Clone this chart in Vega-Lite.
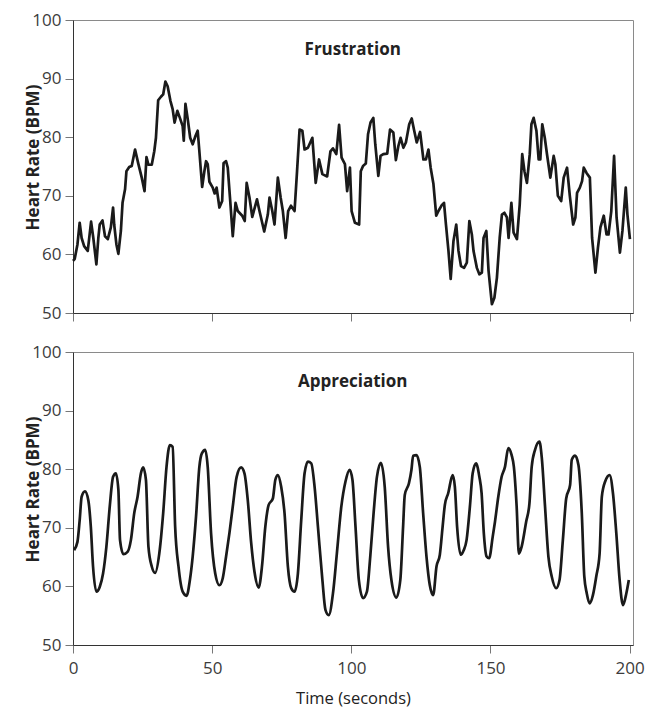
{
 "$schema": "https://vega.github.io/schema/vega-lite/v6.json",
 "background": "white",
 "padding": {"left": 24, "top": 10, "right": 3, "bottom": 0},
 "config": {
  "font": "Open Sans",
  "view": {"stroke": "#8a8a8a", "strokeWidth": 1},
  "axis": {"grid": false, "domainColor": "#333333", "tickColor": "#777777", "tickSize": 8, "labelFontSize": 17, "labelColor": "#3c3c3c", "titleFontSize": 16.5, "titleColor": "#222222", "labelFont": "Open Sans", "titleFont": "Open Sans"},
  "axisY": {"labelPadding": 4},
  "axisX": {"labelPadding": 7},
  "concat": {"spacing": 20}
 },
 "datasets": {
  "frustration": [{"t":0,"hr":58.9},{"t":0.6,"hr":59.2},{"t":1.6,"hr":61.7},{"t":2.4,"hr":65.4},{"t":3.1,"hr":62.8},{"t":4.0,"hr":61.4},{"t":5.3,"hr":60.6},{"t":6.5,"hr":65.6},{"t":7.3,"hr":62.8},{"t":8.4,"hr":58.3},{"t":9.1,"hr":62.8},{"t":9.6,"hr":65.1},{"t":10.6,"hr":65.8},{"t":11.5,"hr":63.1},{"t":12.5,"hr":62.6},{"t":13.6,"hr":64.6},{"t":14.4,"hr":68.0},{"t":14.8,"hr":65.1},{"t":15.6,"hr":61.7},{"t":16.3,"hr":60.1},{"t":17.2,"hr":64.0},{"t":17.8,"hr":68.8},{"t":18.7,"hr":71.1},{"t":19.2,"hr":74.2},{"t":20.2,"hr":74.9},{"t":21.1,"hr":75.1},{"t":22.3,"hr":77.9},{"t":23.5,"hr":75.4},{"t":24.7,"hr":73.1},{"t":25.7,"hr":70.8},{"t":26.4,"hr":76.6},{"t":27.1,"hr":75.3},{"t":28.3,"hr":75.3},{"t":29.2,"hr":77.6},{"t":29.8,"hr":79.9},{"t":30.6,"hr":86.3},{"t":31.6,"hr":86.9},{"t":32.4,"hr":87.3},{"t":33.2,"hr":89.5},{"t":34.0,"hr":88.7},{"t":35.0,"hr":86.2},{"t":35.8,"hr":84.8},{"t":36.5,"hr":82.5},{"t":37.5,"hr":84.5},{"t":38.4,"hr":83.3},{"t":39.4,"hr":81.9},{"t":39.8,"hr":79.4},{"t":40.4,"hr":85.7},{"t":41.3,"hr":82.8},{"t":42.1,"hr":79.9},{"t":43.0,"hr":78.8},{"t":44.0,"hr":80.2},{"t":44.8,"hr":81.1},{"t":45.4,"hr":77.6},{"t":46.4,"hr":71.5},{"t":47.2,"hr":74.2},{"t":47.8,"hr":75.9},{"t":48.4,"hr":75.4},{"t":49.0,"hr":72.4},{"t":50.2,"hr":71.4},{"t":50.9,"hr":70.4},{"t":51.6,"hr":71.4},{"t":52.6,"hr":68.0},{"t":53.6,"hr":69.1},{"t":54.1,"hr":75.6},{"t":55.0,"hr":75.9},{"t":55.6,"hr":74.8},{"t":56.4,"hr":69.7},{"t":57.4,"hr":63.1},{"t":58.4,"hr":68.8},{"t":59.2,"hr":67.4},{"t":60.8,"hr":66.6},{"t":61.7,"hr":65.7},{"t":62.4,"hr":72.2},{"t":63.4,"hr":69.7},{"t":64.4,"hr":66.4},{"t":66.1,"hr":69.4},{"t":67.0,"hr":67.4},{"t":68.7,"hr":63.9},{"t":70.0,"hr":66.8},{"t":70.6,"hr":69.7},{"t":71.6,"hr":67.4},{"t":72.4,"hr":65.1},{"t":73.6,"hr":73.1},{"t":74.6,"hr":69.7},{"t":75.4,"hr":67.4},{"t":76.4,"hr":62.8},{"t":77.3,"hr":67.4},{"t":78.3,"hr":68.3},{"t":79.6,"hr":67.4},{"t":80.5,"hr":74.2},{"t":81.4,"hr":81.3},{"t":82.4,"hr":81.1},{"t":83.2,"hr":77.9},{"t":84.4,"hr":78.2},{"t":86.0,"hr":79.9},{"t":87.2,"hr":72.2},{"t":88.4,"hr":76.2},{"t":89.6,"hr":73.7},{"t":91.3,"hr":73.3},{"t":92.5,"hr":77.6},{"t":93.4,"hr":78.1},{"t":94.6,"hr":77.1},{"t":95.6,"hr":82.1},{"t":96.5,"hr":76.5},{"t":97.7,"hr":75.4},{"t":98.5,"hr":70.8},{"t":99.5,"hr":74.8},{"t":100.1,"hr":67.4},{"t":101.3,"hr":65.4},{"t":102.8,"hr":65.1},{"t":103.4,"hr":74.2},{"t":104.2,"hr":75.1},{"t":105.2,"hr":75.5},{"t":106.0,"hr":80.5},{"t":106.9,"hr":82.5},{"t":107.9,"hr":83.3},{"t":108.6,"hr":78.8},{"t":109.7,"hr":73.4},{"t":110.5,"hr":76.8},{"t":111.5,"hr":77.1},{"t":112.9,"hr":77.2},{"t":113.9,"hr":81.3},{"t":115.1,"hr":80.8},{"t":116.0,"hr":76.1},{"t":116.9,"hr":78.5},{"t":117.7,"hr":79.9},{"t":118.7,"hr":78.2},{"t":119.6,"hr":79.1},{"t":120.8,"hr":82.2},{"t":121.7,"hr":83.2},{"t":122.5,"hr":81.3},{"t":123.5,"hr":79.1},{"t":124.7,"hr":80.9},{"t":125.9,"hr":76.2},{"t":126.8,"hr":76.2},{"t":127.7,"hr":77.9},{"t":128.5,"hr":74.8},{"t":129.5,"hr":72.0},{"t":130.5,"hr":66.6},{"t":131.3,"hr":67.4},{"t":132.5,"hr":68.4},{"t":133.3,"hr":68.8},{"t":134.0,"hr":65.1},{"t":134.9,"hr":60.6},{"t":135.7,"hr":55.8},{"t":136.7,"hr":62.3},{"t":137.7,"hr":65.1},{"t":138.5,"hr":60.6},{"t":139.4,"hr":58.0},{"t":140.5,"hr":57.7},{"t":141.5,"hr":58.6},{"t":142.4,"hr":65.7},{"t":143.3,"hr":63.4},{"t":143.9,"hr":60.6},{"t":145.1,"hr":57.7},{"t":146.0,"hr":56.6},{"t":146.9,"hr":56.9},{"t":147.5,"hr":62.8},{"t":148.5,"hr":64.0},{"t":149.3,"hr":57.2},{"t":150.5,"hr":51.5},{"t":151.4,"hr":52.6},{"t":152.3,"hr":56.0},{"t":153.3,"hr":62.8},{"t":154.1,"hr":66.8},{"t":155.0,"hr":67.1},{"t":155.9,"hr":66.3},{"t":156.5,"hr":62.8},{"t":157.5,"hr":68.8},{"t":158.3,"hr":63.7},{"t":159.5,"hr":62.6},{"t":160.5,"hr":68.5},{"t":161.4,"hr":77.1},{"t":162.2,"hr":74.2},{"t":163.1,"hr":72.2},{"t":164.1,"hr":77.1},{"t":164.7,"hr":82.2},{"t":165.5,"hr":83.3},{"t":166.5,"hr":81.1},{"t":167.3,"hr":76.2},{"t":167.9,"hr":76.2},{"t":168.6,"hr":82.2},{"t":169.5,"hr":79.9},{"t":170.3,"hr":77.1},{"t":171.5,"hr":73.1},{"t":172.7,"hr":76.8},{"t":173.3,"hr":75.4},{"t":174.2,"hr":70.0},{"t":175.4,"hr":69.1},{"t":176.3,"hr":73.1},{"t":177.5,"hr":74.8},{"t":178.5,"hr":70.0},{"t":179.7,"hr":65.1},{"t":180.5,"hr":66.3},{"t":181.1,"hr":70.5},{"t":182.1,"hr":71.4},{"t":182.9,"hr":72.5},{"t":183.5,"hr":74.8},{"t":184.5,"hr":73.9},{"t":185.7,"hr":73.1},{"t":186.5,"hr":62.8},{"t":187.7,"hr":56.9},{"t":188.6,"hr":61.1},{"t":189.5,"hr":64.6},{"t":190.7,"hr":66.6},{"t":191.7,"hr":63.4},{"t":192.4,"hr":63.4},{"t":193.4,"hr":67.4},{"t":194.4,"hr":76.8},{"t":195.3,"hr":66.3},{"t":196.5,"hr":60.3},{"t":197.4,"hr":64.0},{"t":198.6,"hr":71.4},{"t":199.2,"hr":66.8},{"t":200.1,"hr":62.6}],
  "appreciation": [{"t":0.4,"hr":66.2},{"t":1.6,"hr":67.6},{"t":2.4,"hr":71.3},{"t":3.1,"hr":75.3},{"t":4.3,"hr":76.2},{"t":5.5,"hr":74.7},{"t":6.4,"hr":70.2},{"t":7.2,"hr":63.4},{"t":8.4,"hr":59.1},{"t":9.6,"hr":59.9},{"t":10.8,"hr":62.2},{"t":12.0,"hr":66.8},{"t":13.2,"hr":73.6},{"t":14.4,"hr":78.7},{"t":15.4,"hr":79.3},{"t":16.3,"hr":76.5},{"t":16.9,"hr":67.9},{"t":18.1,"hr":65.5},{"t":19.6,"hr":65.9},{"t":20.8,"hr":67.9},{"t":22.0,"hr":72.5},{"t":23.2,"hr":75.3},{"t":24.4,"hr":79.3},{"t":25.2,"hr":80.3},{"t":26.2,"hr":78.2},{"t":27.1,"hr":66.8},{"t":28.3,"hr":63.4},{"t":29.5,"hr":62.3},{"t":31.0,"hr":65.6},{"t":32.4,"hr":72.5},{"t":33.6,"hr":80.4},{"t":34.8,"hr":84.1},{"t":35.8,"hr":83.8},{"t":36.7,"hr":70.2},{"t":37.9,"hr":63.4},{"t":39.4,"hr":59.1},{"t":40.8,"hr":58.4},{"t":42.0,"hr":61.1},{"t":43.0,"hr":65.1},{"t":44.2,"hr":71.9},{"t":45.4,"hr":80.4},{"t":46.3,"hr":82.7},{"t":47.5,"hr":83.3},{"t":48.4,"hr":80.4},{"t":49.6,"hr":69.1},{"t":51.1,"hr":62.2},{"t":52.6,"hr":60.2},{"t":53.8,"hr":61.4},{"t":55.0,"hr":65.1},{"t":56.2,"hr":69.1},{"t":57.4,"hr":73.6},{"t":58.8,"hr":78.7},{"t":60.4,"hr":80.3},{"t":61.6,"hr":79.3},{"t":62.8,"hr":74.7},{"t":64.0,"hr":67.5},{"t":65.2,"hr":62.5},{"t":66.7,"hr":59.8},{"t":67.9,"hr":63.4},{"t":69.1,"hr":70.2},{"t":70.3,"hr":73.9},{"t":71.8,"hr":75.0},{"t":72.7,"hr":78.2},{"t":73.6,"hr":79.0},{"t":74.8,"hr":77.0},{"t":76.0,"hr":72.5},{"t":77.2,"hr":63.4},{"t":78.4,"hr":59.7},{"t":79.6,"hr":59.1},{"t":80.8,"hr":62.2},{"t":82.0,"hr":71.3},{"t":83.2,"hr":79.3},{"t":84.4,"hr":81.3},{"t":85.6,"hr":81.0},{"t":86.8,"hr":77.0},{"t":88.0,"hr":70.2},{"t":89.6,"hr":61.1},{"t":90.7,"hr":56.0},{"t":91.9,"hr":55.1},{"t":93.4,"hr":58.8},{"t":94.8,"hr":65.6},{"t":96.4,"hr":73.6},{"t":97.9,"hr":77.9},{"t":99.4,"hr":79.9},{"t":100.4,"hr":78.2},{"t":101.5,"hr":70.2},{"t":102.7,"hr":61.1},{"t":104.2,"hr":58.0},{"t":105.6,"hr":59.1},{"t":106.8,"hr":65.1},{"t":108.0,"hr":72.5},{"t":109.2,"hr":78.7},{"t":110.6,"hr":81.1},{"t":112.0,"hr":77.0},{"t":113.2,"hr":66.8},{"t":114.4,"hr":61.1},{"t":116.2,"hr":58.1},{"t":117.6,"hr":61.1},{"t":118.6,"hr":70.2},{"t":119.2,"hr":75.6},{"t":120.7,"hr":77.6},{"t":121.6,"hr":79.9},{"t":122.2,"hr":82.3},{"t":123.4,"hr":82.4},{"t":124.6,"hr":80.4},{"t":125.8,"hr":72.5},{"t":127.0,"hr":65.1},{"t":128.2,"hr":60.2},{"t":129.4,"hr":58.5},{"t":130.6,"hr":63.4},{"t":131.8,"hr":65.4},{"t":132.8,"hr":70.2},{"t":133.6,"hr":73.9},{"t":134.8,"hr":75.9},{"t":136.4,"hr":79.0},{"t":137.2,"hr":77.0},{"t":138.0,"hr":70.2},{"t":139.3,"hr":65.4},{"t":140.4,"hr":66.2},{"t":141.4,"hr":67.9},{"t":142.6,"hr":73.6},{"t":143.6,"hr":79.3},{"t":144.8,"hr":81.0},{"t":146.0,"hr":78.7},{"t":146.8,"hr":75.9},{"t":147.6,"hr":69.1},{"t":148.6,"hr":65.1},{"t":149.5,"hr":64.8},{"t":150.8,"hr":68.5},{"t":151.6,"hr":71.0},{"t":152.8,"hr":75.3},{"t":154.0,"hr":78.7},{"t":155.2,"hr":80.4},{"t":156.4,"hr":83.6},{"t":157.6,"hr":82.4},{"t":158.4,"hr":80.4},{"t":159.4,"hr":73.6},{"t":160.2,"hr":65.6},{"t":161.2,"hr":66.8},{"t":162.8,"hr":71.0},{"t":164.0,"hr":74.2},{"t":164.8,"hr":80.4},{"t":166.0,"hr":83.3},{"t":167.6,"hr":84.7},{"t":168.4,"hr":82.1},{"t":169.6,"hr":73.6},{"t":170.8,"hr":65.1},{"t":172.0,"hr":61.7},{"t":173.6,"hr":59.7},{"t":174.8,"hr":61.1},{"t":176.0,"hr":67.9},{"t":177.2,"hr":75.0},{"t":178.6,"hr":77.3},{"t":179.2,"hr":81.6},{"t":180.4,"hr":82.3},{"t":181.6,"hr":80.7},{"t":182.8,"hr":72.5},{"t":183.7,"hr":61.7},{"t":184.6,"hr":58.8},{"t":185.6,"hr":57.1},{"t":186.8,"hr":58.5},{"t":188.0,"hr":61.7},{"t":189.2,"hr":65.6},{"t":190.0,"hr":75.3},{"t":191.2,"hr":77.9},{"t":192.8,"hr":79.0},{"t":194.0,"hr":75.9},{"t":195.2,"hr":69.1},{"t":196.4,"hr":61.1},{"t":197.6,"hr":56.8},{"t":198.8,"hr":58.8},{"t":199.7,"hr":61.1}],
  "one": [{"k": 1}]
 },
 "vconcat": [
  {
   "width": 560, "height": 293,
   "layer": [
    {
     "data": {"name": "frustration"},
     "mark": {"type": "line", "color": "#1a1a1a", "strokeWidth": 2.7, "strokeJoin": "round"},
     "encoding": {
      "x": {"field": "t", "type": "quantitative", "scale": {"domain": [0, 201.2], "nice": false}, "axis": {"values": [0, 50, 100, 150, 200], "labels": false, "title": null}},
      "y": {"field": "hr", "type": "quantitative", "scale": {"domain": [50, 100], "nice": false, "zero": false}, "axis": {"values": [50, 60, 70, 80, 90, 100], "title": "Heart Rate (BPM)", "titleFontWeight": "bold", "titleFontSize": 17, "titlePadding": -11, "titleY": 137}}
     }
    },
    {
     "data": {"name": "one"},
     "mark": {"type": "text", "text": "Frustration", "fontWeight": "bold", "fontSize": 17, "baseline": "middle", "color": "#222222", "font": "Open Sans"},
     "encoding": {"x": {"datum": 100.5, "type": "quantitative"}, "y": {"datum": 94.8, "type": "quantitative"}}
    }
   ]
  },
  {
   "width": 560, "height": 293,
   "layer": [
    {
     "data": {"name": "appreciation"},
     "mark": {"type": "line", "color": "#1a1a1a", "strokeWidth": 2.7, "interpolate": "monotone"},
     "encoding": {
      "x": {"field": "t", "type": "quantitative", "scale": {"domain": [0, 201.2], "nice": false}, "axis": {"values": [0, 50, 100, 150, 200], "title": "Time (seconds)", "titleFontWeight": "normal", "titlePadding": 14, "labelFlush": false}},
      "y": {"field": "hr", "type": "quantitative", "scale": {"domain": [50, 100], "nice": false, "zero": false}, "axis": {"values": [50, 60, 70, 80, 90, 100], "title": "Heart Rate (BPM)", "titleFontWeight": "bold", "titleFontSize": 17, "titlePadding": -11, "titleY": 137}}
     }
    },
    {
     "data": {"name": "one"},
     "mark": {"type": "text", "text": "Appreciation", "fontWeight": "bold", "fontSize": 17, "baseline": "middle", "color": "#222222", "font": "Open Sans"},
     "encoding": {"x": {"datum": 100.5, "type": "quantitative"}, "y": {"datum": 94.8, "type": "quantitative"}}
    }
   ]
  }
 ]
}
